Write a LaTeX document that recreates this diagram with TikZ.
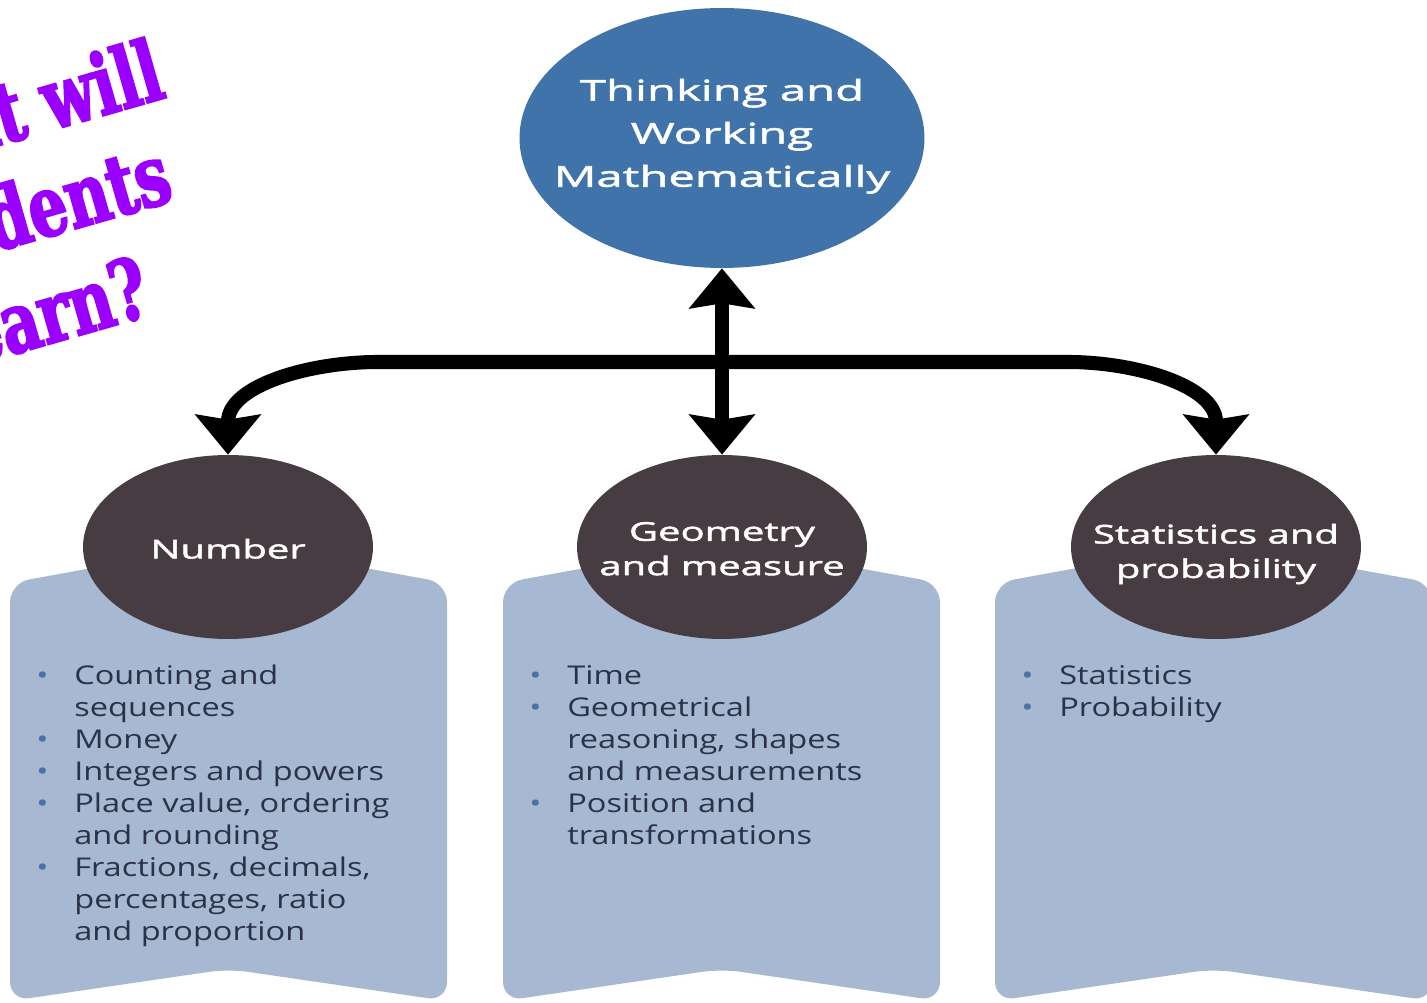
\documentclass[tikz,border=0pt]{standalone}
\usepackage{fontspec}
\usetikzlibrary{arrows.meta, shapes.geometric}
\newfontfamily\listfont{Open Sans}[FakeStretch=1.26]
\newfontfamily\headfont{Open Sans}[FakeStretch=1.55, FakeBold=2]
\newfontfamily\topfont{Open Sans}[FakeStretch=1.65, FakeBold=2]
\newfontfamily\slabfont{DejaVu Serif}[FakeStretch=0.72, BoldFeatures={FakeBold=2.5}]
\definecolor{topblue}{HTML}{3F73AA}
\definecolor{areadark}{HTML}{473C41}
\definecolor{panelblue}{HTML}{A7B8D3}
\definecolor{itemtext}{HTML}{2B3245}
\definecolor{dotblue}{HTML}{4A74A8}
\definecolor{quest}{HTML}{9B00FF}
% bullet and hanging indent for the lists
\newcommand\blt{\makebox[21.6pt][l]{\textcolor{dotblue}{•}}}
\newcommand\ind{\hspace*{21.6pt}}
% one ribbon panel, #1 = left edge
\newcommand\ribbon[1]{%
	\fill[panel] (#1+218.5,969) [rounded corners=11pt] -- (#1,1001) -- (#1,583) -- (#1+218.5,543)
		-- (#1+437,583) -- (#1+437,1001) -- cycle;}
\tikzset{
	panel/.style={fill=panelblue},
	topell/.style={ellipse, fill=topblue, minimum width=8.1cm, minimum height=5.2cm, inner sep=0},
	toptext/.style={text=white, align=center, font=\topfont\fontsize{16.3}{24.5}\selectfont},
	area/.style={ellipse, fill=areadark, minimum width=5.8cm, minimum height=3.68cm, inner sep=0},
	areatext/.style={text=white, align=center, font=\headfont\fontsize{14.7}{19.6}\selectfont},
	items/.style={anchor=north west, inner sep=0, align=left, text=itemtext,
		font=\listfont\fontsize{14.7}{18.2}\selectfont},
	bigtip/.tip={Stealth[length=0.8cm, width=1.3cm, inset=0.1cm]},
	branch/.style={line width=8pt, -bigtip},
	slab/.style={inner sep=0, rotate=16, anchor=base east, text=quest,
		font=\slabfont\bfseries\fontsize{48}{48}\selectfont}
}
\begin{document}
\begin{tikzpicture}[x=0.02cm, y=-0.02cm]
	\useasboundingbox (0,0) rectangle (1427,1003);
	\clip (0,0) rectangle (1427,1003);
	% panels
	\ribbon{10}
	\ribbon{503}
	\ribbon{995}
	% circles
	\node[topell, label={[toptext, yshift=1pt]center:Thinking and\\Working\\Mathematically}] (twm) at (722,138) {};
	\node[area, label={[areatext, yshift=-1pt]center:Number}] (num) at (228,547) {};
	\node[area, label={[areatext, yshift=-1pt]center:Geometry\\and measure}] (geo) at (722,547) {};
	\node[area, label={[areatext, yshift=-4pt]center:Statistics and\\probability}] (stat) at (1216,547) {};
	% arrows
	\coordinate (hub) at (722,362);
	\coordinate (bendL) at (378,362);
	\coordinate (bendR) at (1068,362);
	\draw[branch] (hub) -- (bendL) to[out=180,in=90] (num);
	\draw[branch] (hub) -- (bendR) to[out=0,in=90] (stat);
	\draw[line width=8pt, bigtip-bigtip] (twm) -- (geo);
	% lists
	\node[items] (numlist) at (36,665) {\blt Counting and\\ \ind sequences\\ \blt Money\\
		\blt Integers and powers\\ \blt Place value, ordering\\ \ind and rounding\\
		\blt Fractions, decimals,\\ \ind percentages, ratio\\ \ind and proportion};
	\node[items] (geolist) at (529,665) {\blt Time\\ \blt Geometrical\\ \ind reasoning, shapes\\
		\ind and measurements\\ \blt Position and\\ \ind transformations};
	\node[items] (statlist) at (1021,665) {\blt Statistics\\ \blt Probability};
	% question, cut off at the left edge
	\node[slab] (q1) at (168,97) {What will};
	\node[slab] (q2) at (176,200) {students};
	\node[slab] (q3) at (154,314) {learn?};
\end{tikzpicture}
\end{document}
